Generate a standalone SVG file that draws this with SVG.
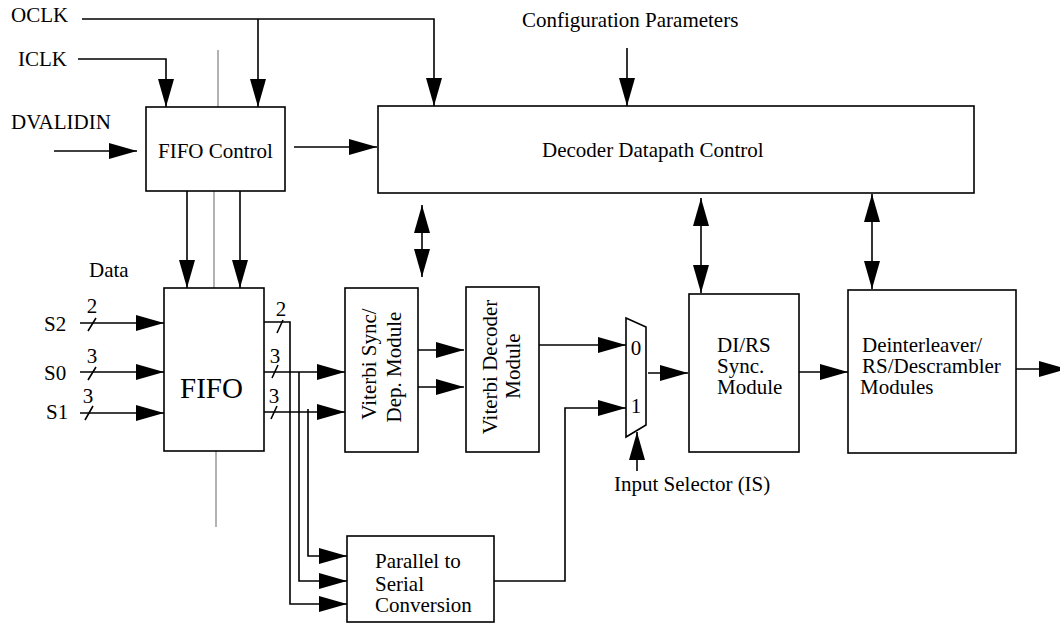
<svg xmlns="http://www.w3.org/2000/svg" width="1060" height="623" viewBox="0 0 1060 623">
<style>
text{font-family:"Liberation Serif","Times New Roman",serif;font-size:21px;fill:#000}
.box{fill:#fff;stroke:#000;stroke-width:1.6}
.w{fill:none;stroke:#000;stroke-width:1.6}
.a{marker-end:url(#ah)}
.b{marker-start:url(#ah);marker-end:url(#ah)}
.g{stroke:#999;stroke-width:1.5;fill:none}
</style>
<defs>
<marker id="ah" markerUnits="userSpaceOnUse" markerWidth="28" markerHeight="16" refX="28" refY="8" orient="auto-start-reverse" viewBox="0 0 28 16"><path d="M0,0 L28,8 L0,16 z" fill="#000"/></marker>
</defs>
<rect width="1060" height="623" fill="#fff"/>
<g id="connectors">
<path class="w a" d="M82,19 H434 V106"/>
<path class="w a" d="M258,19 V107"/>
<path class="w a" d="M78,59 H166 V107"/>
<path class="w a" d="M54,151 H137"/>
<path class="w a" d="M294,147 H377"/>
<path class="w a" d="M627,48 V106"/>
<path class="w a" d="M187,191 V288"/>
<path class="w a" d="M240,191 V288"/>
<path class="g" d="M218,50 V107"/>
<path class="g" d="M214,191 V288"/>
<path class="g" d="M216,451 V527"/>
<path class="w a" d="M80,323 H164"/>
<path class="w a" d="M80,372 H164"/>
<path class="w a" d="M80,413 H164"/>
<path class="w" d="M88,331 L96,318 M88,380 L96,367 M85,420 L93,406"/>
<path class="w a" d="M264,322 H290 V604 H347"/>
<path class="w a" d="M264,372 H345"/>
<path class="w a" d="M299,372 V581 H347"/>
<path class="w a" d="M264,412 H345"/>
<path class="w a" d="M308,409 V556 H347"/>
<path class="w" d="M277,333 L283,320 M272,378 L278,365 M271,419 L277,406"/>
<path class="w a" d="M418,350 H464"/>
<path class="w a" d="M418,387 H464"/>
<path class="w a" d="M539,345 H626"/>
<path class="w a" d="M494,581 H565 V408 H626"/>
<path class="w a" d="M648,373 H688"/>
<path class="w a" d="M637,471 V432"/>
<path class="w a" d="M799,372 H848"/>
<path class="w a" d="M1016,369 H1067"/>
<path class="w b" d="M422,205 V277"/>
<path class="w b" d="M701,198 V293"/>
<path class="w b" d="M872,194 V289"/>
</g>
<g id="labels">
<text x="11" y="22">OCLK</text>
<text x="18" y="66">ICLK</text>
<text x="11" y="129">DVALIDIN</text>
<text x="522" y="27">Configuration Parameters</text>
<text x="89" y="277">Data</text>
<text x="44" y="331">S2</text>
<text x="44" y="380">S0</text>
<text x="46" y="419">S1</text>
<text x="92" y="313" text-anchor="middle">2</text>
<text x="92" y="363" text-anchor="middle">3</text>
<text x="88" y="403" text-anchor="middle">3</text>
<text x="281" y="316" text-anchor="middle">2</text>
<text x="275" y="363" text-anchor="middle">3</text>
<text x="274" y="403" text-anchor="middle">3</text>
<text x="614" y="491">Input Selector (IS)</text>
</g>
<g id="fifo-control"><rect class="box" x="146" y="107" width="139" height="84"/><text x="158" y="158">FIFO Control</text></g>
<g id="decoder-datapath-control"><rect class="box" x="378" y="106" width="596" height="87"/><text x="542" y="157">Decoder Datapath Control</text></g>
<g id="fifo"><rect class="box" x="164" y="288" width="100" height="163"/><text x="180" y="398" style="font-size:29px">FIFO</text></g>
<g id="viterbi-sync"><rect class="box" x="345" y="288" width="73" height="164"/>
<text transform="translate(376,364) rotate(-90)" text-anchor="middle">Viterbi Sync/</text>
<text transform="translate(401,367) rotate(-90)" text-anchor="middle">Dep. Module</text></g>
<g id="viterbi-decoder"><rect class="box" x="466" y="287" width="73" height="165"/>
<text transform="translate(497,367) rotate(-90)" text-anchor="middle">Viterbi Decoder</text>
<text transform="translate(520,366) rotate(-90)" text-anchor="middle">Module</text></g>
<g id="mux"><polygon class="box" points="626,318 646,327 646,425 626,437"/>
<text x="636" y="355" text-anchor="middle">0</text><text x="636" y="413" text-anchor="middle">1</text></g>
<g id="dirs-sync"><rect class="box" x="689" y="294" width="110" height="158"/>
<text x="717" y="352">DI/RS</text><text x="717" y="373">Sync.</text><text x="717" y="394">Module</text></g>
<g id="deinterleaver"><rect class="box" x="848" y="290" width="168" height="163"/>
<text x="862" y="352">Deinterleaver/</text><text x="862" y="373">RS/Descrambler</text><text x="860" y="394">Modules</text></g>
<g id="parallel-serial"><rect class="box" x="347" y="536" width="147" height="86"/>
<text x="375" y="568">Parallel to</text><text x="375" y="591">Serial</text><text x="375" y="612">Conversion</text></g>
</svg>
